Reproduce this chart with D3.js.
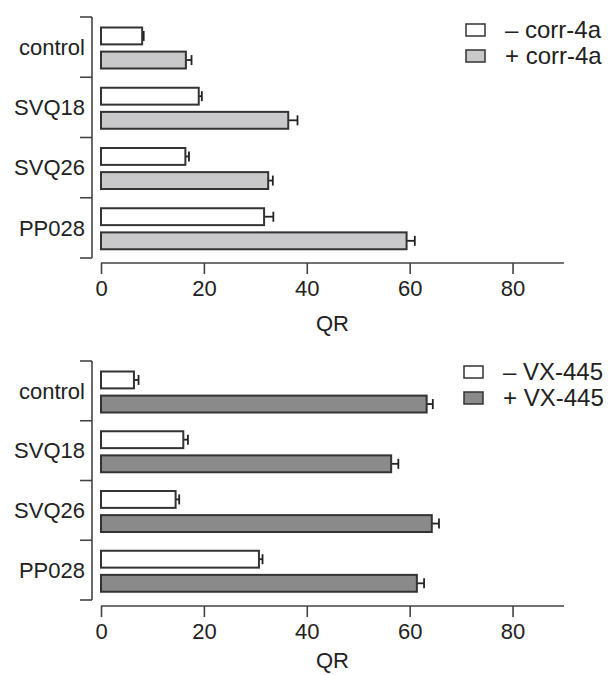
<!DOCTYPE html>
<html>
<head>
<meta charset="utf-8">
<script src="https://cdn.jsdelivr.net/npm/d3@7/dist/d3.min.js"></script>
<style>
  body { margin: 0; background: #fff; }
  svg { display: block; font-family: "Liberation Sans", Arial, sans-serif; }
  .axis path, .axis line { stroke: #444; stroke-width: 1.6; }
  .axis text { fill: #222; font-size: 22px; }
</style>
</head>
<body>
<svg id="chart" width="614" height="675"></svg>
<script>
var categories = ["control", "SVQ18", "SVQ26", "PP028"];
var xTicks = [0, 20, 40, 60, 80];

// top panel: corr-4a
var corrLabels = ["\u2013 corr-4a", "+ corr-4a"];
var corrMinus = [8.0, 19.0, 16.4, 31.7];
var corrMinusErr = [0.3, 0.6, 0.7, 1.8];
var corrPlus = [16.5, 36.4, 32.5, 59.4];
var corrPlusErr = [1.1, 1.8, 0.9, 1.6];

// bottom panel: VX-445
var vxLabels = ["\u2013 VX-445", "+ VX-445"];
var vxMinus = [6.4, 16.0, 14.5, 30.7];
var vxMinusErr = [0.9, 0.9, 0.7, 0.7];
var vxPlus = [63.3, 56.4, 64.3, 61.4];
var vxPlusErr = [1.2, 1.4, 1.4, 1.4];

var svg = d3.select("#chart");

function panel(opts) {
  var x = d3.scaleLinear().domain([0, 90]).range([101, 564]);
  var y = d3.scaleBand().domain(categories).range([opts.top, opts.bottom]);
  var inner = d3.scaleBand().domain(["minus", "plus"]).range([10.5, 51.5]).paddingInner(0.3);

  var g = svg.append("g");

  // x axis
  var xa = g.append("g")
    .attr("class", "axis")
    .attr("transform", "translate(0," + opts.axisY + ")")
    .call(d3.axisBottom(x).tickValues(xTicks).tickSize(11).tickSizeOuter(0).tickPadding(6));
  xa.select(".domain").attr("d", "M" + x(0) + ",0H" + x(90));

  g.append("text")
    .attr("x", x(45))
    .attr("y", opts.qrY)
    .attr("text-anchor", "middle")
    .attr("font-size", 22)
    .attr("fill", "#222")
    .text("QR");

  // y axis with ticks at band boundaries
  var ya = g.append("g").attr("class", "axis");
  ya.append("line")
    .attr("x1", 92).attr("x2", 92)
    .attr("y1", opts.top).attr("y2", opts.bottom);
  var bounds = categories.map(function (c) { return y(c); }).concat([opts.bottom]);
  ya.selectAll(".yt").data(bounds).enter().append("line")
    .attr("x1", 80).attr("x2", 92)
    .attr("y1", function (d) { return d; }).attr("y2", function (d) { return d; });
  ya.selectAll(".yl").data(categories).enter().append("text")
    .attr("x", 85)
    .attr("y", function (d) { return y(d) + y.bandwidth() / 2; })
    .attr("dy", "0.35em")
    .attr("text-anchor", "end")
    .attr("font-size", 23)
    .text(function (d) { return d; });

  var series = [
    { key: "minus", vals: opts.minus, errs: opts.minusErr, fill: "#fff" },
    { key: "plus", vals: opts.plus, errs: opts.plusErr, fill: opts.color }
  ];

  series.forEach(function (s) {
    var rows = categories.map(function (c, i) { return { cat: c, v: s.vals[i], e: s.errs[i] }; });
    var sg = g.append("g");
    function cy(d) { return y(d.cat) + inner(s.key) + inner.bandwidth() / 2; }
    // error bars
    sg.selectAll(".eb").data(rows).enter().append("line")
      .attr("x1", function (d) { return x(d.v); })
      .attr("x2", function (d) { return x(d.v + d.e); })
      .attr("y1", cy).attr("y2", cy)
      .attr("stroke", "#222").attr("stroke-width", 1.8);
    sg.selectAll(".ec").data(rows).enter().append("line")
      .attr("x1", function (d) { return x(d.v + d.e); })
      .attr("x2", function (d) { return x(d.v + d.e); })
      .attr("y1", function (d) { return cy(d) - 5; })
      .attr("y2", function (d) { return cy(d) + 5; })
      .attr("stroke", "#222").attr("stroke-width", 1.8);
    sg.selectAll("rect").data(rows).enter().append("rect")
      .attr("x", x(0))
      .attr("y", function (d) { return y(d.cat) + inner(s.key); })
      .attr("width", function (d) { return x(d.v) - x(0); })
      .attr("height", inner.bandwidth())
      .attr("fill", s.fill)
      .attr("stroke", "#333")
      .attr("stroke-width", 2);
  });

  // legend
  var lg = g.append("g");
  var fills = ["#fff", opts.color];
  opts.labels.forEach(function (lab, i) {
    var ly = opts.legendY + i * 26;
    lg.append("rect")
      .attr("x", opts.legendX).attr("y", ly - 6)
      .attr("width", 19).attr("height", 12)
      .attr("fill", fills[i]).attr("stroke", "#333").attr("stroke-width", 1.5);
    lg.append("text")
      .attr("x", opts.legendX + 39).attr("y", ly)
      .attr("dy", "0.35em")
      .attr("font-size", 24)
      .attr("fill", "#222")
      .text(lab);
  });
}

panel({
  top: 17, bottom: 258, axisY: 263, qrY: 331,
  minus: corrMinus, minusErr: corrMinusErr,
  plus: corrPlus, plusErr: corrPlusErr,
  color: "#c9c9cb", labels: corrLabels,
  legendX: 466, legendY: 30
});

panel({
  top: 361, bottom: 600, axisY: 606, qrY: 668,
  minus: vxMinus, minusErr: vxMinusErr,
  plus: vxPlus, plusErr: vxPlusErr,
  color: "#8a8a8a", labels: vxLabels,
  legendX: 464, legendY: 372
});
</script>
</body>
</html>
